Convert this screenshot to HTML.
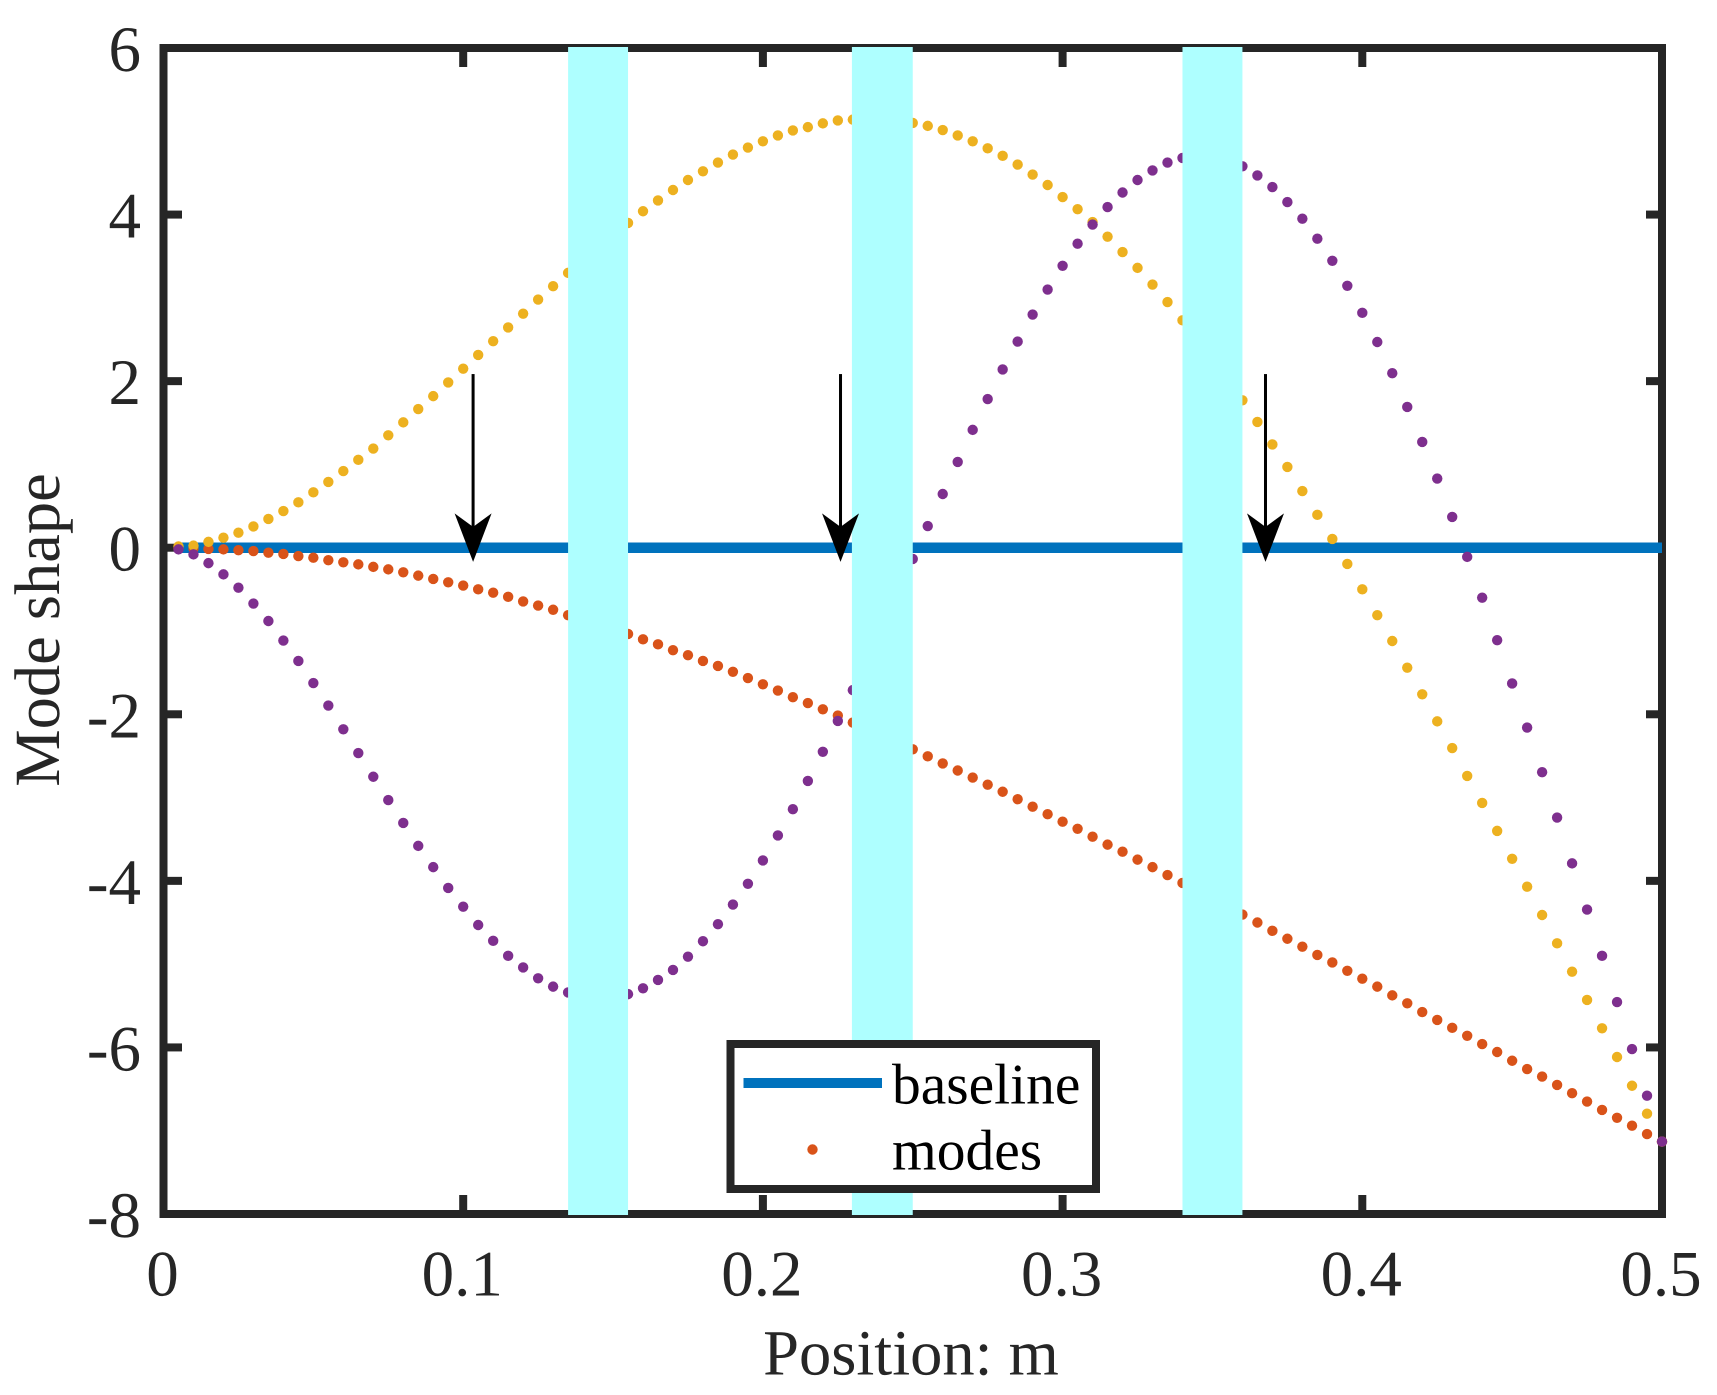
<!DOCTYPE html>
<html lang="en">
<head>
<meta charset="utf-8">
<title>Mode shape chart</title>
<style>
html,body{margin:0;padding:0;background:#fff;}
svg{display:block;font-family:"Liberation Serif",serif;text-rendering:geometricPrecision;}
</style>
</head>
<body>
<svg id="chart" xmlns="http://www.w3.org/2000/svg" width="1717" height="1395" viewBox="0 0 1717 1395">
<rect x="0" y="0" width="1717" height="1395" fill="#ffffff"/>
</svg>
<script>
const positions = [0.005,0.01,0.015,0.02,0.025,0.03,0.035,0.04,0.045,0.05,0.055,0.06,0.065,0.07,0.075,0.08,0.085,0.09,0.095,0.1,0.105,0.11,0.115,0.12,0.125,0.13,0.135,0.14,0.145,0.15,0.155,0.16,0.165,0.17,0.175,0.18,0.185,0.19,0.195,0.2,0.205,0.21,0.215,0.22,0.225,0.23,0.235,0.24,0.245,0.25,0.255,0.26,0.265,0.27,0.275,0.28,0.285,0.29,0.295,0.3,0.305,0.31,0.315,0.32,0.325,0.33,0.335,0.34,0.345,0.35,0.355,0.36,0.365,0.37,0.375,0.38,0.385,0.39,0.395,0.4,0.405,0.41,0.415,0.42,0.425,0.43,0.435,0.44,0.445,0.45,0.455,0.46,0.465,0.47,0.475,0.48,0.485,0.49,0.495,0.5];
const modeOrange = [-0.005,-0.01,-0.015,-0.02,-0.03,-0.04,-0.06,-0.075,-0.1,-0.12,-0.15,-0.175,-0.2,-0.23,-0.26,-0.295,-0.335,-0.375,-0.415,-0.455,-0.5,-0.54,-0.59,-0.645,-0.695,-0.745,-0.81,-0.855,-0.91,-0.965,-1.035,-1.1,-1.16,-1.23,-1.29,-1.36,-1.42,-1.49,-1.565,-1.64,-1.715,-1.795,-1.865,-1.94,-2.015,-2.1,-2.17,-2.25,-2.32,-2.42,-2.505,-2.59,-2.675,-2.76,-2.845,-2.93,-3.02,-3.11,-3.2,-3.29,-3.375,-3.47,-3.565,-3.65,-3.745,-3.835,-3.93,-4.025,-4.12,-4.21,-4.31,-4.405,-4.5,-4.6,-4.695,-4.79,-4.89,-4.98,-5.08,-5.175,-5.27,-5.375,-5.47,-5.575,-5.67,-5.765,-5.86,-5.96,-6.055,-6.16,-6.26,-6.35,-6.45,-6.55,-6.65,-6.75,-6.845,-6.94,-7.04,-7.13];
const modeYellow = [0.015,0.025,0.07,0.12,0.18,0.255,0.345,0.44,0.545,0.665,0.79,0.92,1.055,1.19,1.35,1.505,1.665,1.82,1.985,2.15,2.315,2.48,2.645,2.81,2.98,3.14,3.3,3.45,3.595,3.75,3.9,4.04,4.17,4.295,4.415,4.52,4.625,4.72,4.805,4.88,4.95,5.01,5.05,5.095,5.13,5.14,5.13,5.12,5.105,5.1,5.065,5.015,4.95,4.88,4.795,4.705,4.6,4.48,4.355,4.21,4.065,3.91,3.735,3.55,3.36,3.16,2.95,2.73,2.5,2.26,2.02,1.77,1.51,1.24,0.97,0.68,0.395,0.105,-0.195,-0.5,-0.81,-1.12,-1.44,-1.76,-2.085,-2.405,-2.74,-3.065,-3.4,-3.735,-4.07,-4.41,-4.75,-5.09,-5.43,-5.77,-6.115,-6.46,-6.795,-7.13];
const modePurple = [-0.02,-0.08,-0.185,-0.32,-0.48,-0.67,-0.88,-1.115,-1.36,-1.625,-1.895,-2.18,-2.465,-2.75,-3.03,-3.305,-3.58,-3.835,-4.085,-4.31,-4.53,-4.72,-4.9,-5.04,-5.17,-5.27,-5.34,-5.375,-5.385,-5.385,-5.36,-5.29,-5.19,-5.07,-4.91,-4.725,-4.52,-4.285,-4.035,-3.755,-3.455,-3.14,-2.8,-2.45,-2.08,-1.71,-1.3,-0.9,-0.5,-0.135,0.26,0.645,1.03,1.415,1.785,2.14,2.475,2.8,3.1,3.385,3.65,3.88,4.09,4.265,4.415,4.53,4.625,4.68,4.71,4.7,4.655,4.58,4.47,4.33,4.15,3.95,3.71,3.445,3.145,2.82,2.47,2.095,1.69,1.27,0.83,0.37,-0.11,-0.6,-1.11,-1.63,-2.16,-2.695,-3.24,-3.79,-4.345,-4.9,-5.455,-6.02,-6.58,-7.13];
const xTickValues = [0,0.1,0.2,0.3,0.4,0.5];
const xTickLabels = ["0","0.1","0.2","0.3","0.4","0.5"];
const yTickValues = [-8,-6,-4,-2,0,2,4,6];
const yTickLabels = ["-8","-6","-4","-2","0","2","4","6"];
const bandStarts = [0.135,0.2297,0.34];
const bandEnds = [0.155,0.25,0.36];
const arrowX = [0.1033,0.2259,0.3677];
const arrowTailY = [2.085,2.085,2.085];
const arrowTipY = [-0.17,-0.17,-0.17];

const xScale = v => 163.5 + (v - 0) / 0.5 * 1498.5;
const yScale = v => 1214 - (v + 8) / 14 * 1166;

const NS = "http://www.w3.org/2000/svg";
const svg = document.getElementById("chart");
const DARK = "#262626";
function make(tag, attrs, text) {
  const el = document.createElementNS(NS, tag);
  for (const k in attrs) el.setAttribute(k, attrs[k]);
  if (text !== undefined) el.textContent = text;
  svg.appendChild(el);
  return el;
}

// plot frame
const frame = make("rect", {x: 163.5, y: 48, width: 1498.5, height: 1166, fill: "none", stroke: DARK, "stroke-width": 8});



// ticks
xTickValues.forEach((v, i) => {
  if (v > 0 && v < 0.5) {
    const top = make("rect", {x: xScale(v) - 4, y: 50, width: 8, height: 17, fill: DARK});
    
    
    const bottom = make("rect", {x: xScale(v) - 4, y: 1195, width: 8, height: 17, fill: DARK});
    
    
  }
  const label = make("text", {x: xScale(v) - 1, y: 1295.5, "font-size": 65, "text-anchor": "middle", fill: DARK}, xTickLabels[i]);
  
  
});
yTickValues.forEach((v, i) => {
  if (v > -8 && v < 6) {
    const left = make("rect", {x: 165, y: yScale(v) - 4, width: 17, height: 8, fill: DARK});
    
    
    const right = make("rect", {x: 1646, y: yScale(v) - 4, width: 17, height: 8, fill: DARK});
    
    
  }
  const label = make("text", {x: 141, y: yScale(v) + 23, "font-size": 65, "text-anchor": "end", fill: DARK}, yTickLabels[i]);
  
  
});

// baseline series
const baselinePath = positions.map((p, i) => (i ? "L" : "M") + xScale(p) + " " + yScale(0)).join(" ");
const baseline = make("path", {d: baselinePath, fill: "none", stroke: "#0072BD", "stroke-width": 10.5});



// modal dots
function drawMode(values, color, name) {
  values.forEach((v, i) => {
    const dot = make("circle", {cx: xScale(positions[i]), cy: yScale(v), r: 5.2, fill: color});
    
    
  });
}
drawMode(modeOrange, "#D95319", "mode-orange-point");
drawMode(modeYellow, "#EDB120", "mode-yellow-point");
drawMode(modePurple, "#7E2F8E", "mode-purple-point");

// cyan bands
bandStarts.forEach((s, i) => {
  const band = make("rect", {x: xScale(s), y: 47, width: xScale(bandEnds[i]) - xScale(s), height: 1168, fill: "#AEFFFF"});
  
  
});

// axis titles
const xTitle = make("text", {x: 911, y: 1374.5, "font-size": 64.5, "text-anchor": "middle", fill: DARK}, "Position: m");


const yTitle = make("text", {x: 0, y: 0, transform: "translate(59 630) rotate(-90)", "font-size": 64.5, "text-anchor": "middle", fill: DARK}, "Mode shape");



// legend
const legendBox = make("rect", {x: 730.5, y: 1044, width: 365.5, height: 145, fill: "#ffffff", stroke: DARK, "stroke-width": 8});


const legendLine = make("rect", {x: 743.5, y: 1078, width: 138.5, height: 10, fill: "#0072BD"});


const legendDot = make("circle", {cx: 812.5, cy: 1149.5, r: 5.2, fill: "#D95319"});


const legendBaseline = make("text", {x: 892, y: 1103.5, "font-size": 57.5, fill: "#000000"}, "baseline");


const legendModes = make("text", {x: 892, y: 1169.5, "font-size": 57.5, fill: "#000000"}, "modes");



// arrows
arrowX.forEach((v, i) => {
  const x = xScale(v);
  const tail = yScale(arrowTailY[i]);
  const tip = yScale(arrowTipY[i]);
  const shaft = make("rect", {x: x - 1.5, y: tail, width: 3, height: tip - tail - 20, fill: "#000000"});
  
  
  const head = make("path", {d: "M" + x + " " + tip + " L" + (x - 18.5) + " " + (tip - 48.5) + " L" + x + " " + (tip - 35) + " L" + (x + 18.5) + " " + (tip - 48.5) + " Z", fill: "#000000"});
  
  
});
</script>
</body>
</html>
